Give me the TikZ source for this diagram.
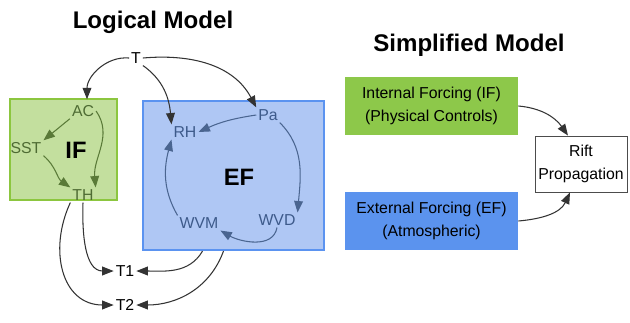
\documentclass[tikz,border=0pt]{standalone}
\usepackage{fontspec}
\setmainfont{Liberation Sans}
\usetikzlibrary{calc,arrows.meta}
\definecolor{gfill}{HTML}{C3DF9E}
\definecolor{gdraw}{HTML}{8CC63F}
\definecolor{bfill}{HTML}{AFC7F4}
\definecolor{bdraw}{HTML}{5B93F0}
\definecolor{rgreen}{HTML}{8DC84A}
\definecolor{rblue}{HTML}{5B93EE}
\definecolor{gtext}{HTML}{4E6B33}
\definecolor{btext}{HTML}{3D5A8A}
\definecolor{garrow}{HTML}{5A7A38}
\definecolor{barrow}{HTML}{4A6590}
\definecolor{karrow}{HTML}{333333}
\tikzset{
  lbl/.style={inner sep=1pt, font=\fontsize{9}{10}\selectfont},
  glbl/.style={lbl, text=gtext},
  blbl/.style={lbl, text=btext},
  klbl/.style={lbl, text=black},
  big/.style={inner sep=0pt, font=\fontsize{13.5}{15}\selectfont\bfseries},
  ttl/.style={inner sep=0pt, font=\fontsize{13.7}{16}\selectfont\bfseries},
  rbox/.style={inner sep=0pt, align=center, font=\fontsize{9}{13}\selectfont},
  conn/.style={-{Triangle[length=6.5pt,width=5pt]}, line width=0.6pt},
  kconn/.style={conn, draw=karrow},
  gconn/.style={conn, draw=garrow},
  bconn/.style={conn, draw=barrow},
}
\begin{document}
\begin{tikzpicture}[x=0.02cm,y=-0.02cm]
\useasboundingbox (0,0) rectangle (630,322);
% boxes
\node[draw=gdraw, fill=gfill, line width=1.2pt, minimum width=107*0.02cm, minimum height=101*0.02cm, inner sep=0pt] (ifbox) at (63.5,149.5) {};
\node[draw=bdraw, fill=bfill, line width=1.2pt, minimum width=181*0.02cm, minimum height=149*0.02cm, inner sep=0pt] (efbox) at (233.5,175.5) {};
\node[fill=rgreen, rbox, minimum width=173*0.02cm, minimum height=58*0.02cm] (rif) at (431.5,106) {Internal Forcing (IF)\\(Physical Controls)};
\node[fill=rblue, rbox, minimum width=173*0.02cm, minimum height=58*0.02cm] (ref) at (431.5,221) {External Forcing (EF)\\(Atmospheric)};
\node[draw=black!70, fill=white, line width=0.5pt, rbox, minimum width=92*0.02cm, minimum height=56*0.02cm] (rift) at (581,164) {Rift\\Propagation};
% titles
\node[ttl] (t1) at (153,22) {Logical Model};
\node[ttl] (t2) at (469,45) {Simplified Model};
% labels
\node[klbl] (T) at (136,58) {T};
\node[glbl] (AC) at (83,111) {AC};
\node[glbl] (SST) at (26,148) {SST};
\node[big] (IF) at (76,150) {IF};
\node[glbl] (TH) at (83,195) {TH};
\node[blbl] (Pa) at (268,115) {Pa};
\node[blbl] (RH) at (185,132) {RH};
\node[big] (EF) at (239,177) {EF};
\node[blbl] (WVD) at (277,220) {WVD};
\node[blbl] (WVM) at (199,223) {WVM};
\node[klbl] (T1) at (125,271) {T1};
\node[klbl] (T2) at (125,305) {T2};
% helper coordinates
\coordinate (ACtop) at ($(AC.north)+(4,-4)$);
\coordinate (b1) at ($(efbox.south)+(-31,0)$);
\coordinate (b2) at ($(efbox.south)+(-10,0)$);
\coordinate (rt) at ($(rift.north)+(-13,0)$);
\coordinate (rb) at ($(rift.south)+(-11,0)$);
% T arrows
\draw[kconn] (T.west) to[out=175,in=90] (ACtop);
\draw[kconn] (T.east) to[out=5,in=118] (Pa.north west);
\draw[kconn] (T.south east) to[out=-35,in=95] (RH.north west);
% IF internal
\draw[gconn] (AC.south west) -- (SST.north east);
\draw[gconn] (AC.east) to[out=-55,in=95] (TH.north east);
\draw[gconn] (SST.south east) to[out=-40,in=145] (TH.north west);
% EF internal
\draw[bconn] (Pa.west) to[bend right=8] (RH.east);
\draw[bconn] (Pa.south east) to[out=-45,in=85] (WVD.north east);
\draw[bconn] (WVD.south) to[out=-100,in=-30] (WVM.south east);
\draw[bconn] (WVM.north west) to[out=120,in=-105] (RH.south west);
% outputs
\draw[kconn] (TH.south) to[out=-92,in=180] (T1.west);
\draw[kconn] (TH.south west) to[out=-115,in=180,looseness=1.2] (T2.west);
\draw[kconn] (b1) to[out=-120,in=0] (T1.east);
\draw[kconn] (b2) to[out=-110,in=0] (T2.east);
% simplified model arrows
\draw[kconn] (rif.east) to[out=-5,in=125] (rt);
\draw[kconn] (ref.east) to[out=5,in=-115] (rb);
\end{tikzpicture}
\end{document}
